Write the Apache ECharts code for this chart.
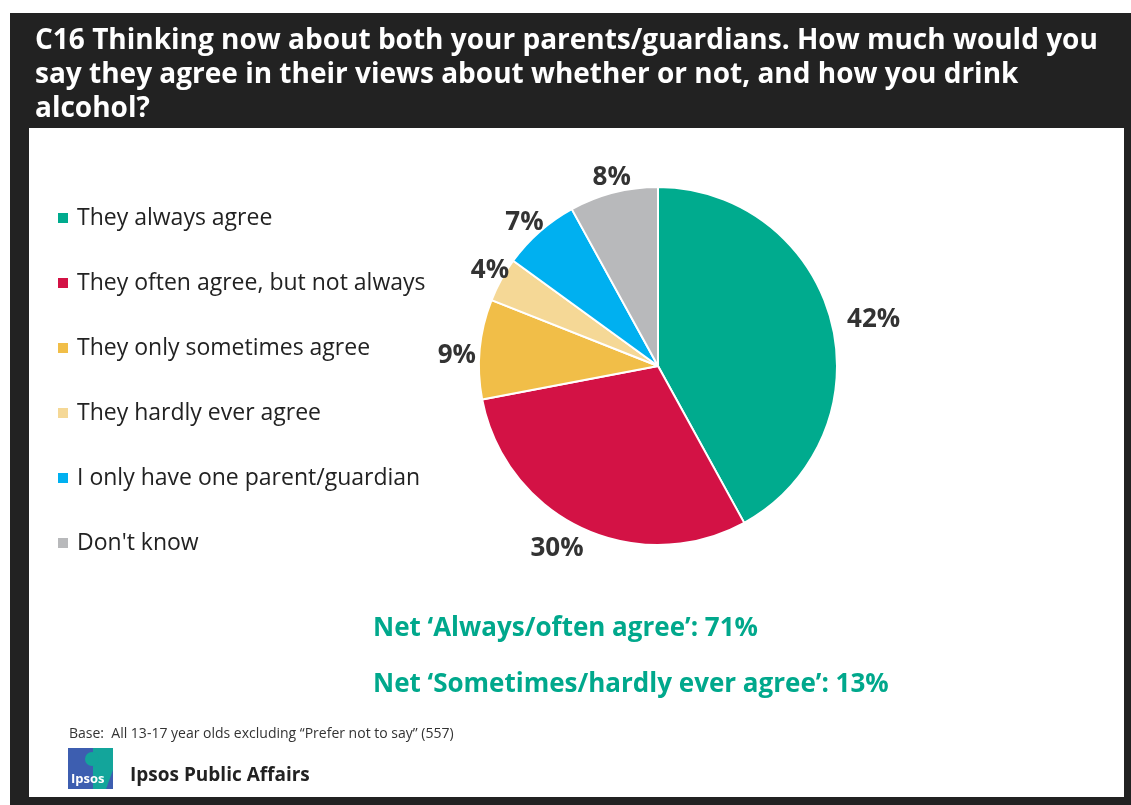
<!DOCTYPE html>
<html><head><meta charset="utf-8">
<script src="https://cdn.jsdelivr.net/npm/echarts@6/dist/echarts.min.js"></script>
<style>html,body{margin:0;padding:0;background:#fff}#c{width:1131px;height:805px}</style>
</head><body><div id="c"></div>
<script>
const titleLines = [
  "C16 Thinking now about both your parents/guardians. How much would you",
  "say they agree in their views about whether or not, and how you drink",
  "alcohol?"
];
const categories = [
  "They always agree",
  "They often agree, but not always",
  "They only sometimes agree",
  "They hardly ever agree",
  "I only have one parent/guardian",
  "Don't know"
];
const values = [42, 30, 9, 4, 7, 8];
const colors = ["#00AB8E", "#D31245", "#F1BE48", "#F5D896", "#00B0F0", "#B8B9BB"];
const netLines = [
  "Net \u2018Always/often agree\u2019: 71%",
  "Net \u2018Sometimes/hardly ever agree\u2019: 13%"
];
const baseText = "Base:  All 13-17 year olds excluding \u201cPrefer not to say\u201d (557)";
const brandText = "Ipsos Public Affairs";

const FONT = "'Open Sans', 'Noto Sans', sans-serif";
const chart = echarts.init(document.getElementById('c'), null, {renderer: 'canvas'});

// per-label position nudges (style only)
const labelOffsets = [[20, 4], [-15, 0], [0, 9], [9, 2], [0, 8], [4, 7]];
const pieData = categories.map((n, i) => ({name: n, value: values[i]}));
const labelData = categories.map((n, i) => ({name: n, value: values[i], label: {offset: labelOffsets[i]}}));

const option = {
  animation: false,
  backgroundColor: '#ffffff',
  color: colors,
  graphic: [
    {type: 'rect', z: -10, shape: {x: 10, y: 13, width: 1121, height: 792}, style: {fill: '#222222'}},
    {type: 'rect', z: -9, shape: {x: 29, y: 128, width: 1095, height: 669}, style: {fill: '#ffffff'}},
    {type: 'text', x: 35, y: 24, style: {text: titleLines.join('\n'), fill: '#ffffff', font: 'bold 28px ' + FONT, lineHeight: 34, verticalAlign: 'top'}},
    {type: 'text', x: 373, y: 629, style: {text: netLines[0], fill: '#00A88C', font: 'bold 26px ' + FONT, verticalAlign: 'middle'}},
    {type: 'text', x: 373, y: 685, style: {text: netLines[1], fill: '#00A88C', font: 'bold 26px ' + FONT, verticalAlign: 'middle'}},
    {type: 'text', x: 69, y: 734, style: {text: baseText, fill: '#333333', font: '14px ' + FONT, verticalAlign: 'middle'}},
    {type: 'rect', shape: {x: 68, y: 748, width: 45, height: 41}, style: {fill: '#3D5EB0'}},
    {type: 'polygon', shape: {points: [[93, 748], [113, 748], [113, 770], [106, 789], [93, 789]]}, style: {fill: '#13A59B'}},
    {type: 'circle', shape: {cx: 92, cy: 759, r: 7}, style: {fill: '#13A59B'}},
    {type: 'text', x: 71, y: 779, style: {text: 'Ipsos', fill: '#ffffff', font: 'bold 13px ' + FONT, verticalAlign: 'middle'}},
    {type: 'text', x: 130, y: 776, style: {text: brandText, fill: '#222222', font: 'bold 19px ' + FONT, verticalAlign: 'middle'}}
  ],
  legend: {
    orient: 'vertical',
    left: 56,
    top: 205,
    padding: 0,
    icon: 'rect',
    itemWidth: 12,
    itemHeight: 12,
    itemGap: 39,
    selectedMode: false,
    data: categories,
    textStyle: {fontFamily: FONT, fontSize: 23, color: '#222222', lineHeight: 26, padding: [0, 0, 0, 3]}
  },
  series: [{
    type: 'pie',
    center: [658, 366],
    radius: [0, 179],
    startAngle: 90,
    clockwise: true,
    itemStyle: {borderColor: '#ffffff', borderWidth: 2},
    label: {show: false},
    labelLine: {show: false},
    emphasis: {disabled: true},
    data: pieData
  }, {
    type: 'pie',
    center: [658, 366],
    radius: [182, 216],
    startAngle: 90,
    clockwise: true,
    silent: true,
    itemStyle: {color: 'rgba(0,0,0,0)', borderWidth: 0},
    label: {
      show: true,
      position: 'inside',
      formatter: '{c}%',
      fontFamily: FONT,
      fontSize: 26,
      fontWeight: 'bold',
      color: '#333333'
    },
    labelLine: {show: false},
    emphasis: {disabled: true},
    data: labelData
  }]
};
chart.setOption(option);
</script>
</body></html>
